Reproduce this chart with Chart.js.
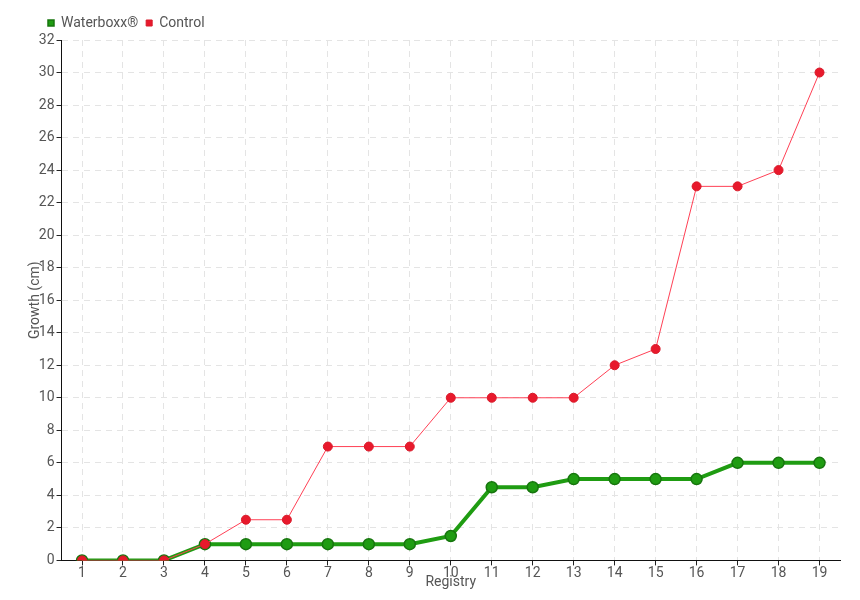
<!DOCTYPE html>
<html>
<head>
<meta charset="utf-8">
<script src="https://cdn.jsdelivr.net/npm/chart.js@4.4.0/dist/chart.umd.min.js"></script>
<style>
  html, body { margin: 0; padding: 0; background: #fff; }
  #wrap { width: 860px; height: 600px; }
</style>
</head>
<body>
<div id="wrap"><canvas id="growthChart"></canvas></div>
<script>
const registry = ["1","2","3","4","5","6","7","8","9","10","11","12","13","14","15","16","17","18","19"];
const waterboxx = [0, 0, 0, 1, 1, 1, 1, 1, 1, 1.5, 4.5, 4.5, 5, 5, 5, 5, 6, 6, 6];
const control = [0, 0, 0, 1, 2.5, 2.5, 7, 7, 7, 10, 10, 10, 10, 12, 13, 23, 23, 24, 30];

const fontFamily = "Roboto, 'Liberation Sans Narrow', sans-serif";
const gridStyle = {
  color: "#e4e4e4",
  lineWidth: 1,
  tickColor: "#222",
  tickLength: 5,
  drawTicks: true
};

// nudge the legend right so it starts near the y axis, like the original
const legendShift = {
  id: "legendShift",
  afterLayout(chart) {
    chart.legend.left += 17;
  }
};

document.addEventListener("DOMContentLoaded", function () {
  let ctx = document.getElementById("growthChart").getContext("2d");
  new Chart(ctx, {
    type: "line",
    data: {
      labels: registry,
      datasets: [
        {
          label: "Waterboxx®",
          data: waterboxx,
          borderColor: "#1f9c12",
          backgroundColor: "#1f9c12",
          borderWidth: 4,
          pointRadius: 5.5,
          pointBorderWidth: 1.5,
          pointBorderColor: "#17760e",
          pointBackgroundColor: "#1f9c12",
          tension: 0,
          order: 2
        },
        {
          label: "Control",
          data: control,
          borderColor: "#ff4055",
          backgroundColor: "#e8192c",
          borderWidth: 1,
          pointRadius: 4.5,
          pointBorderWidth: 1,
          pointBorderColor: "#d81a2a",
          pointBackgroundColor: "#e8192c",
          tension: 0,
          order: 1
        }
      ]
    },
    options: {
      responsive: true,
      maintainAspectRatio: false,
      animation: false,
      layout: { padding: { left: 23, right: 20, top: 8, bottom: 9 } },
      scales: {
        x: {
          offset: true,
          grid: Object.assign({}, gridStyle, { offset: false }),
          border: { color: "#111", width: 1, dash: [6, 5] },
          ticks: { color: "#555", font: { family: fontFamily, size: 14 }, padding: 0, maxRotation: 0 },
          title: { display: true, text: "Registry", color: "#555", font: { family: fontFamily, size: 14 }, padding: { top: -8, bottom: 0 } }
        },
        y: {
          min: 0,
          max: 32,
          grid: gridStyle,
          border: { color: "#111", width: 1, dash: [6, 5] },
          ticks: { stepSize: 2, color: "#555", font: { family: fontFamily, size: 14 }, padding: 2 },
          title: { display: true, text: "Growth (cm)", color: "#555", font: { family: fontFamily, size: 14 }, padding: { top: 4, bottom: -7 } }
        }
      },
      plugins: {
        legend: {
          position: "top",
          align: "start",
          reverse: true,
          labels: {
            usePointStyle: true,
            pointStyle: "rect",
            boxWidth: 6,
            boxHeight: 6,
            padding: 8,
            color: "#555",
            font: { family: fontFamily, size: 14 }
          }
        },
        tooltip: { enabled: false }
      }
    },
    plugins: [legendShift]
  });
});
</script>
</body>
</html>
